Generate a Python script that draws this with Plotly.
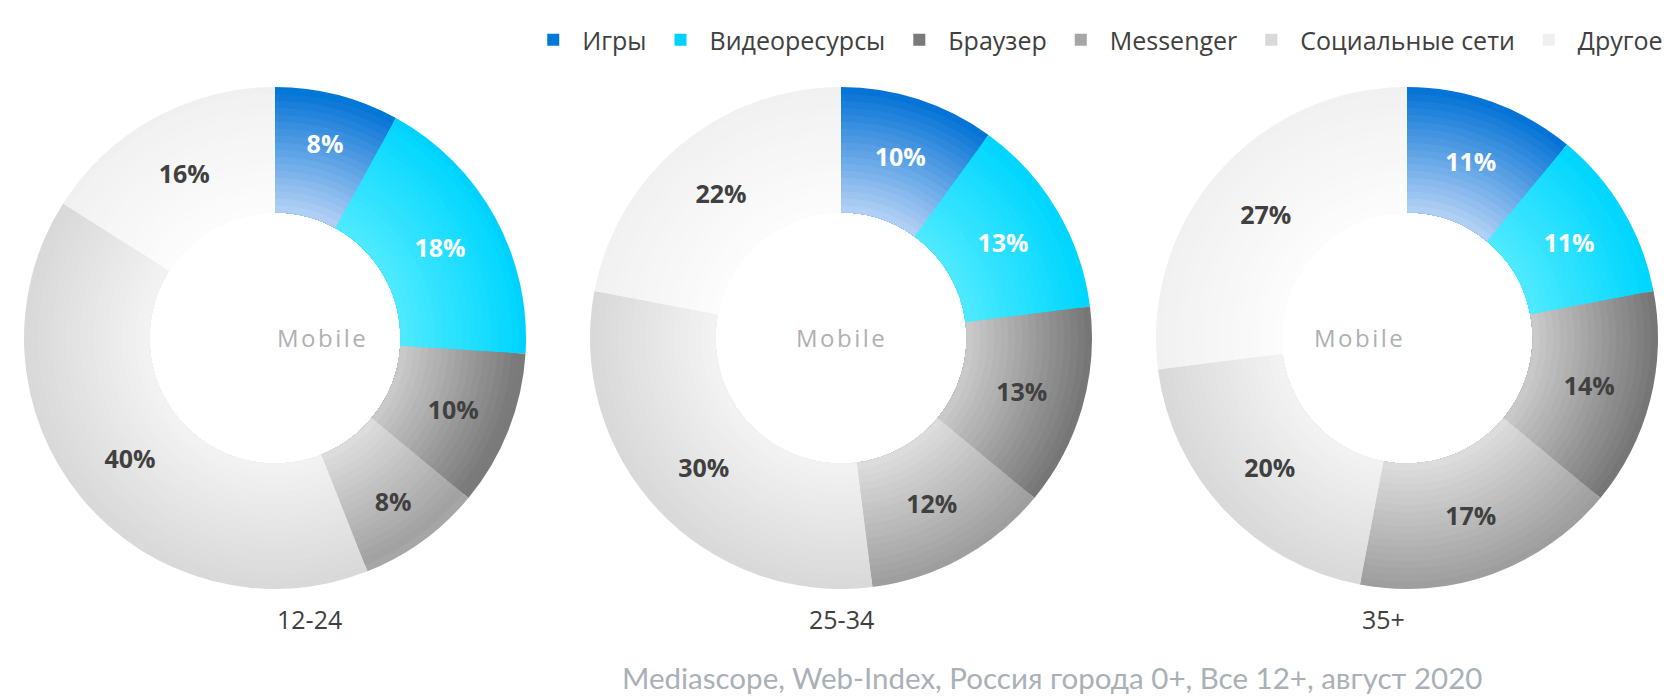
import plotly.graph_objects as go

W, H = 1680, 697

categories = ["Игры", "Видеоресурсы", "Браузер", "Messenger", "Социальные сети", "Другое"]
groups = ["12-24", "25-34", "35+"]
values_12_24 = [8, 18, 10, 8, 40, 16]
values_25_34 = [10, 13, 13, 12, 30, 22]
values_35_plus = [11, 11, 14, 17, 20, 27]
all_values = [values_12_24, values_25_34, values_35_plus]
center_text = "Mobile"
source_text = "Mediascope, Web-Index, Россия города 0+, Все 12+, август 2020"

# style: outer (dark) and inner (light) colours of each slice for a radial shading
outer_cols = ["#0674d6", "#00d6ff", "#767676", "#9e9e9e", "#d9d9d9", "#f1f1f1"]
inner_cols = ["#b0cff4", "#4ce9ff", "#c9c9c9", "#dcdcdc", "#f2f2f2", "#fcfcfc"]
legend_cols = ["#0078d7", "#00d2ff", "#7a7a7a", "#a6a6a6", "#d9d9d9", "#f0f0f0"]
text_cols = ["#ffffff", "#ffffff", "#404040", "#404040", "#404040", "#404040"]

centers_x = [275, 841, 1407]
center_y = 338
R = 251
HOLE = 0.5
N = 18


def hex2rgb(h):
    h = h.lstrip("#")
    return [int(h[i:i + 2], 16) for i in (0, 2, 4)]


def mix(a, b, t):
    ca, cb = hex2rgb(a), hex2rgb(b)
    return "rgb(%d,%d,%d)" % tuple(round(ca[i] + (cb[i] - ca[i]) * t) for i in range(3))


def dom(cx, cy, r):
    return dict(x=[(cx - r) / W, (cx + r) / W], y=[(H - cy - r) / H, (H - cy + r) / H])


fig = go.Figure()
first = True
for gi, vals in enumerate(all_values):
    cx = centers_x[gi]
    for k in range(N):
        rk = R * (1 - (1 - HOLE) * k / N)
        t = k / (N - 1)
        if first and k == 0:
            cols = legend_cols
        else:
            cols = [mix(o, i, t) for o, i in zip(outer_cols, inner_cols)]
        fig.add_trace(go.Pie(
            labels=categories, values=vals, sort=False, direction="clockwise", rotation=0,
            hole=HOLE * R / rk, domain=dom(cx, center_y, rk),
            marker=dict(colors=cols, line=dict(width=0)),
            textinfo="none", hoverinfo="skip",
            showlegend=(first and k == 0),
        ))
    first = False
    fig.add_trace(go.Pie(
        labels=categories, values=vals, sort=False, direction="clockwise", rotation=0,
        hole=HOLE, domain=dom(cx, center_y, R),
        marker=dict(colors=["rgba(0,0,0,0)"] * 6, line=dict(width=0)),
        texttemplate="%{value}%", textposition="inside", insidetextorientation="horizontal",
        textfont=dict(family="Open Sans", size=25, color=text_cols, weight=700),
        hoverinfo="label+value", showlegend=False,
    ))

annotations = []
for gi, g in enumerate(groups):
    annotations.append(dict(x=centers_x[gi] / W, y=1 - center_y / H, xref="paper", yref="paper",
                            text='<span style="letter-spacing:2.5px">' + center_text + '</span>',
                            showarrow=False, yanchor="middle",
                            font=dict(family="Open Sans", size=24, color="#b0b0b0")))
    annotations.append(dict(x=centers_x[gi] / W, y=1 - 619 / H, xref="paper", yref="paper",
                            text=g, showarrow=False, yanchor="middle",
                            font=dict(family="Open Sans", size=25, color="#404040")))
annotations.append(dict(x=1052 / W, y=1 - 677 / H, xref="paper", yref="paper",
                        text=source_text, showarrow=False, yanchor="middle",
                        font=dict(family="Lato", size=29.5, color="#a9b0b8")))

fig.update_layout(
    width=W, height=H,
    margin=dict(l=0, r=0, t=0, b=0),
    paper_bgcolor="white", plot_bgcolor="white",
    showlegend=True,
    legend=dict(orientation="h", x=0.993, xanchor="right", y=1 - 40 / H, yanchor="middle",
                font=dict(family="Open Sans", size=25, color="#404040"),
                itemwidth=48,
                itemclick=False, itemdoubleclick=False),
    annotations=annotations,
)

fig.write_html("out.html")
